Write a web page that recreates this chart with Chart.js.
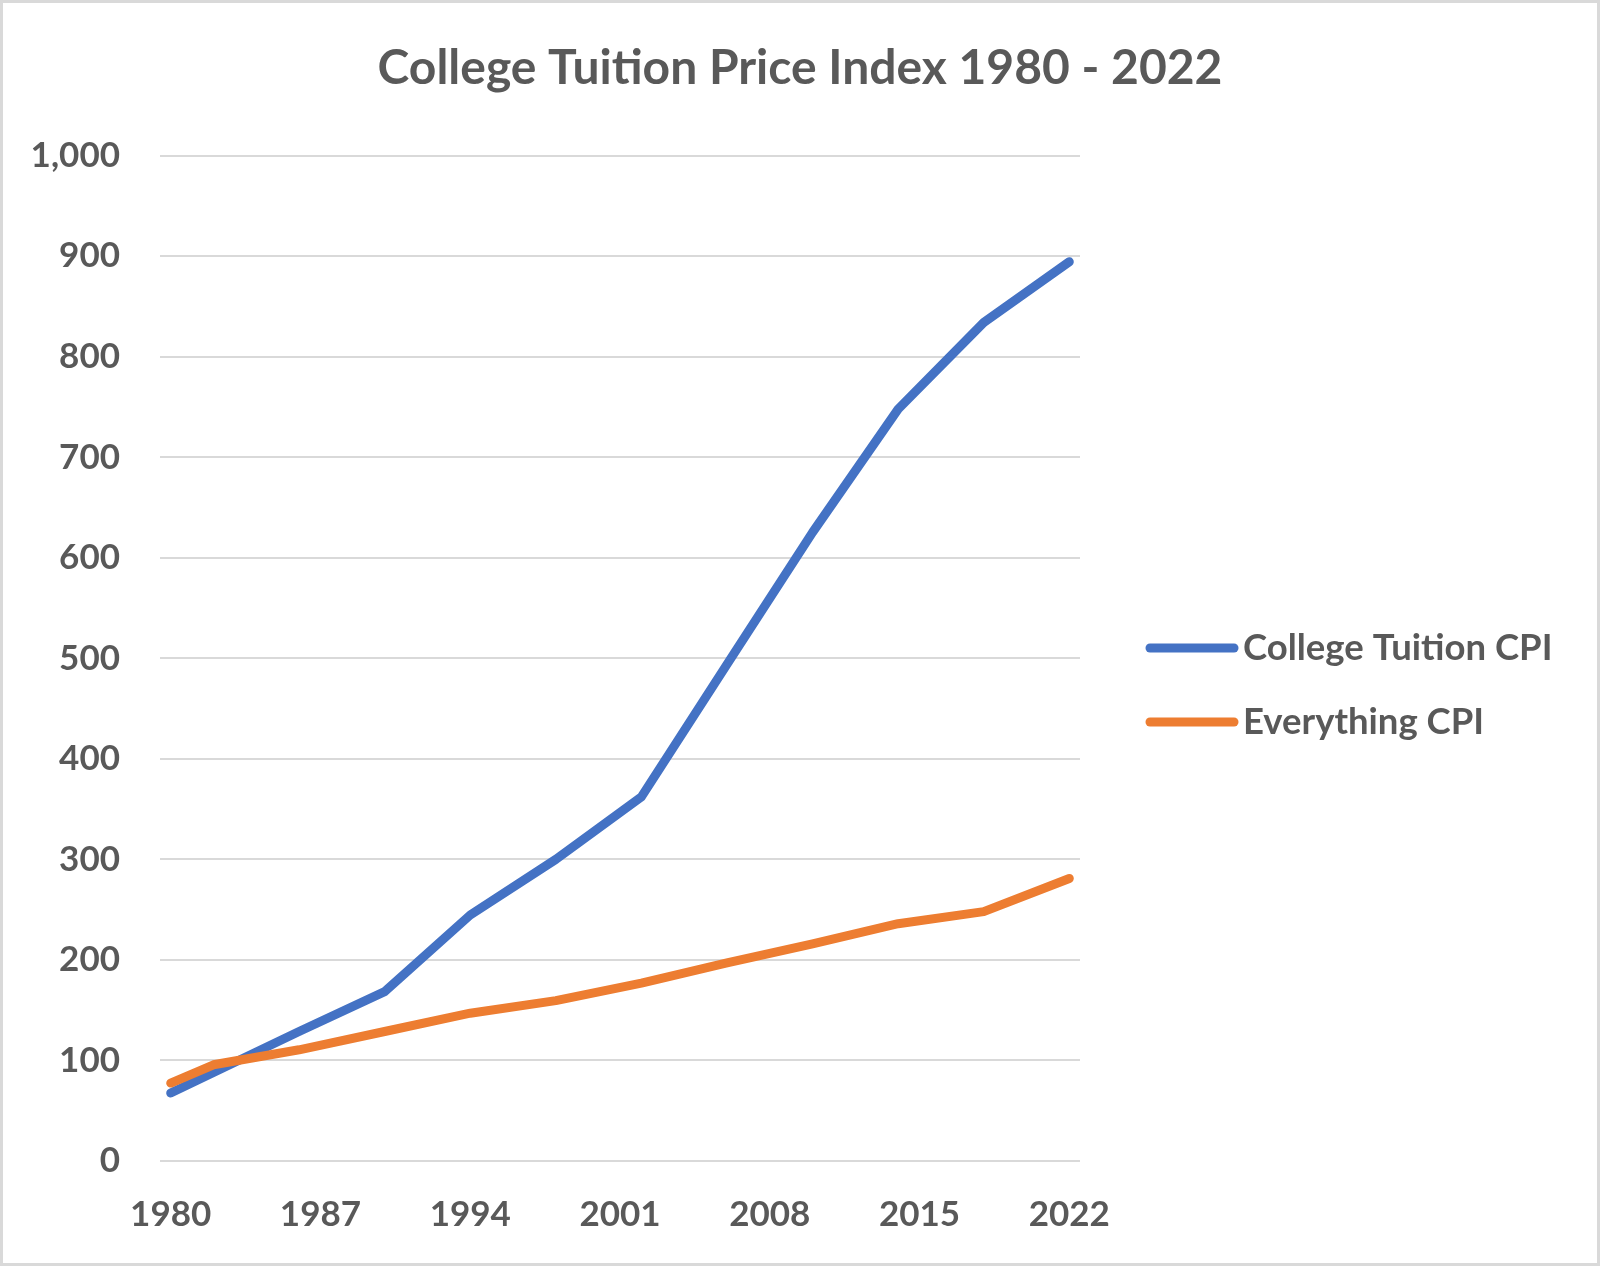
<!DOCTYPE html>
<html>
<head>
<meta charset="utf-8">
<script src="https://cdn.jsdelivr.net/npm/chart.js@4"></script>
<style>
  html, body { margin: 0; padding: 0; background: #fff; }
  #wrap { width: 1600px; height: 1266px; position: relative; }
</style>
</head>
<body>
<div id="wrap"><canvas id="chart"></canvas></div>
<script>
// values
const years = [1980, 1982, 1986, 1990, 1994, 1998, 2002, 2006, 2010, 2014, 2018, 2022];
const tuitionCpi = [67.6, 88, 128.8, 168.5, 244.7, 300, 362.2, 494, 625.3, 747.9, 834, 894.4];
const everythingCpi = [77.5, 95.7, 110.6, 128.8, 147, 159.5, 177, 197, 216, 236, 248, 281];
const xTicks = [1980, 1987, 1994, 2001, 2008, 2015, 2022];
const seriesNames = ['College Tuition CPI', 'Everything CPI'];
const seriesColors = ['#4472C4', '#ED7D31'];

const grey = '#595959';
const font = (size) => ({ family: 'Lato', size: size, weight: 'bold' });

const pts = (vals) => years.map((y, i) => ({ x: y, y: vals[i] }));

// white page + thin grey frame like the exported picture
const frame = {
	id: 'frame',
	beforeDraw(chart) {
		const ctx = chart.ctx;
		ctx.save();
		ctx.fillStyle = '#fff';
		ctx.fillRect(0, 0, chart.width, chart.height);
		ctx.restore();
	},
	afterDraw(chart) {
		const ctx = chart.ctx;
		ctx.save();
		ctx.strokeStyle = '#d9d9d9';
		ctx.lineWidth = 3;
		ctx.strokeRect(1.5, 1.5, chart.width - 3, chart.height - 3);
		ctx.restore();
	}
};

// legend on the right, line swatches with round caps
const sideLegend = {
	id: 'sideLegend',
	afterDraw(chart) {
		const ctx = chart.ctx;
		const a = chart.chartArea;
		const x0 = a.right + 70;
		ctx.save();
		ctx.font = 'bold 36.5px Lato';
		ctx.textBaseline = 'middle';
		chart.data.datasets.forEach((ds, i) => {
			const y = 648 + i * 74;
			ctx.strokeStyle = ds.borderColor;
			ctx.lineWidth = 9;
			ctx.lineCap = 'round';
			ctx.beginPath();
			ctx.moveTo(x0, y);
			ctx.lineTo(x0 + 84, y);
			ctx.stroke();
			ctx.fillStyle = grey;
			ctx.fillText(ds.label, x0 + 93, y);
		});
		ctx.restore();
	}
};

new Chart(document.getElementById('chart'), {
	type: 'line',
	data: {
		datasets: [
			{ label: seriesNames[0], data: pts(tuitionCpi), borderColor: seriesColors[0], order: 1 },
			{ label: seriesNames[1], data: pts(everythingCpi), borderColor: seriesColors[1], order: 0 }
		]
	},
	options: {
		responsive: true,
		maintainAspectRatio: false,
		animation: false,
		elements: {
			point: { radius: 0 },
			line: { borderWidth: 9, borderCapStyle: 'round', borderJoinStyle: 'round', tension: 0 }
		},
		plugins: {
			legend: { display: false },
			tooltip: { enabled: false },
			title: {
				display: true,
				text: 'College Tuition Price Index 1980 - 2022',
				color: grey,
				font: font(48),
				padding: { top: 40, bottom: 58 }
			}
		},
		scales: {
			x: {
				type: 'linear',
				min: 1979.5,
				max: 2022.5,
				grid: { display: false },
				border: { display: false },
				afterBuildTicks: (s) => { s.ticks = xTicks.map((v) => ({ value: v })); },
				afterFit: (s) => { s.height = 105; },
				ticks: {
					color: grey,
					font: font(35),
					padding: 25,
					maxRotation: 0,
					autoSkip: false,
					callback: (v) => String(v)
				}
			},
			y: {
				min: 0,
				max: 1000,
				grid: { color: '#d9d9d9', lineWidth: 2, drawTicks: false },
				border: { display: false },
				afterFit: (s) => { s.width = 160; },
				ticks: {
					stepSize: 100,
					color: grey,
					font: font(35),
					padding: 40,
					callback: (v) => v.toLocaleString('en-US')
				}
			},
			// empty right-hand axis that keeps room for the legend
			side: {
				position: 'right',
				grid: { display: false },
				border: { display: false },
				ticks: { display: false },
				afterFit: (s) => { s.width = 520; }
			}
		}
	},
	plugins: [frame, sideLegend]
});
</script>
</body>
</html>
